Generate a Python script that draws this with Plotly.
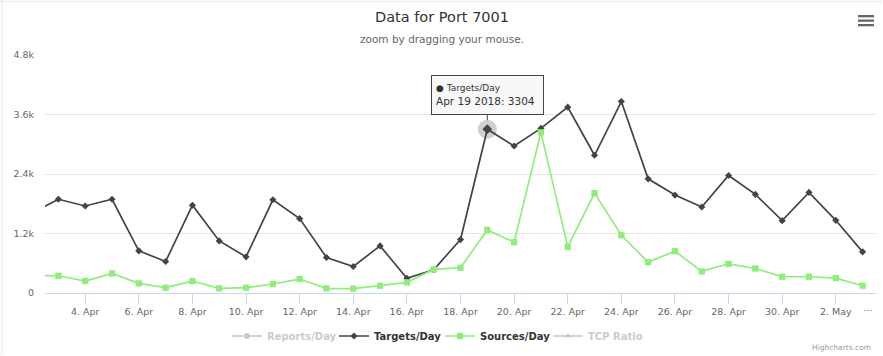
import pandas as pd
import plotly.graph_objects as go

# ---------------- data ----------------
dates = pd.date_range("2018-04-02", "2018-05-03", freq="D")
targets = [1610, 1890, 1755, 1890, 850, 636, 1770, 1050, 730, 1880, 1500, 716,
           535, 950, 295, 470, 1078, 3304, 2965, 3320, 3748, 2778, 3862, 2303,
           1975, 1734, 2370, 1988, 1459, 2028, 1466, 830]
sources = [350, 348, 241, 395, 194, 107, 241, 94, 107, 181, 281, 94,
           87, 147, 214, 475, 509, 1272, 1024, 3240, 930, 2014, 1165, 622,
           843, 435, 589, 495, 328, 328, 301, 147]
# hidden series in the reference (values not visible -> unknown)
reports = [None] * len(dates)
tcp_ratio = [None] * len(dates)
y_tick_vals = [0, 1200, 2400, 3600, 4800]
y_tick_text = ["0", "1.2k", "2.4k", "3.6k", "4.8k"]
hover_index = 17  # Apr 19

# ---------------- geometry helpers ----------------
W, H = 883, 356
L, R, T, B = 45, 7, 55, 62
PW, PH = W - L - R, H - T - B


def px(x):
    return (x - L) / PW


def py(y):
    return (H - B - y) / PH


FONT = "DejaVu Sans"
C_T = "#434348"
C_S = "#90ed7d"
HIDDEN = "#999999"   # rendered at half opacity by the legend -> light grey

fig = go.Figure()

fig.add_trace(go.Scatter(
    x=dates, y=reports, name="Reports/Day", mode="lines+markers", visible="legendonly",
    line=dict(color=HIDDEN, width=1.7), marker=dict(symbol="circle", size=6, color=HIDDEN),
    legend="legend"))
fig.add_trace(go.Scatter(
    x=dates, y=targets, name="Targets/Day", mode="lines+markers",
    line=dict(color=C_T, width=1.7), marker=dict(symbol="diamond", size=5.5, color=C_T),
    legend="legend2"))
fig.add_trace(go.Scatter(
    x=dates, y=sources, name="Sources/Day", mode="lines+markers",
    line=dict(color=C_S, width=1.7), marker=dict(symbol="square", size=6.3, color=C_S),
    legend="legend3"))
fig.add_trace(go.Scatter(
    x=dates, y=tcp_ratio, name="TCP Ratio", mode="lines+markers", visible="legendonly",
    line=dict(color=HIDDEN, width=1.7), marker=dict(symbol="triangle-up", size=6, color=HIDDEN),
    legend="legend4"))

# hover halo + enlarged marker
hx = [dates[hover_index]]
hy = [targets[hover_index]]
fig.add_trace(go.Scatter(x=hx, y=hy, mode="markers", showlegend=False, hoverinfo="skip",
                         marker=dict(symbol="circle", size=19, color="rgba(67,67,72,0.25)")))
fig.add_trace(go.Scatter(x=hx, y=hy, mode="markers", showlegend=False, hoverinfo="skip",
                         marker=dict(symbol="diamond", size=7.5, color=C_T)))

tip_text = ("<span style='font-size:9px'>\u25CF Targets/Day</span><br>"
            f"{dates[hover_index].strftime('%b')} {dates[hover_index].day} "
            f"{dates[hover_index].year}: {targets[hover_index]}")

leg_common = dict(orientation="h", yanchor="middle", xanchor="left",
                  bgcolor="rgba(0,0,0,0)", borderwidth=0, itemclick=False,
                  itemdoubleclick=False)
leg_y = py(336)

annotations = [
    dict(text="Data for Port 7001", x=px(441.5), y=py(17), xref="paper", yref="paper",
         showarrow=False, xanchor="center", yanchor="middle",
         font=dict(family=FONT, size=14.5, color="#333333")),
    dict(text="zoom by dragging your mouse.", x=px(441.5), y=py(39), xref="paper", yref="paper",
         showarrow=False, xanchor="center", yanchor="middle",
         font=dict(family=FONT, size=10.5, color="#666666")),
    dict(text="\u2026", x=px(868), y=py(309), xref="paper", yref="paper",
         showarrow=False, xanchor="center", yanchor="middle",
         font=dict(family=FONT, size=9.5, color="#666666")),
    dict(text="Highcharts.com", x=px(873), y=py(349), xref="paper", yref="paper",
         showarrow=False, xanchor="right", yanchor="middle",
         font=dict(family=FONT, size=7.5, color="#999999")),
    dict(text=tip_text, x=hx[0], y=hy[0], xref="x", yref="y",
         showarrow=True, ax=0, ay=-34, arrowhead=0, arrowwidth=1, arrowcolor=C_T,
         standoff=9, align="left", valign="middle", width=103, height=30,
         borderpad=4, bordercolor=C_T, borderwidth=1, bgcolor="rgba(247,247,247,0.9)",
         font=dict(family=FONT, size=10.5, color="#333333")),
]

shapes = []
# container border (top / left)
shapes.append(dict(type="line", xref="paper", yref="paper", x0=px(0), x1=px(882),
                   y0=py(1), y1=py(1), line=dict(color="#e6e6e6", width=1)))
shapes.append(dict(type="line", xref="paper", yref="paper", x0=px(2), x1=px(2),
                   y0=py(0), y1=py(356), line=dict(color="#e6e6e6", width=1)))
# hamburger icon
for yy in (16, 20.5, 25):
    shapes.append(dict(type="line", xref="paper", yref="paper", x0=px(858), x1=px(874),
                       y0=py(yy), y1=py(yy), line=dict(color="#666666", width=2.3)))

fig.update_layout(
    width=W, height=H,
    margin=dict(l=L, r=R, t=T, b=B, pad=0),
    paper_bgcolor="white", plot_bgcolor="white",
    font=dict(family=FONT, color="#666666"),
    showlegend=True,
    xaxis=dict(
        type="date", range=["2018-04-02 12:00", "2018-05-03 12:00"],
        tick0="2018-04-04", dtick=2 * 86400000, tickformat="%-d. %b",
        showgrid=False, zeroline=False,
        showline=True, linecolor="#ccd6eb", linewidth=1,
        ticks="outside", ticklen=10, tickcolor="#ccd6eb", tickwidth=1,
        tickfont=dict(family=FONT, size=9.5, color="#666666"),
        fixedrange=True, autorange=False,
    ),
    yaxis=dict(
        range=[0, 4800], tickvals=y_tick_vals, ticktext=y_tick_text,
        showgrid=True, gridcolor="#e6e6e6", gridwidth=1, zeroline=False,
        showline=False, ticks="", ticklabelstandoff=10,
        tickfont=dict(family=FONT, size=9.5, color="#666666"),
        fixedrange=True, autorange=False,
    ),
    legend=dict(**leg_common, x=px(227), y=leg_y,
                font=dict(family=FONT, size=10, weight="bold", color=HIDDEN)),
    legend2=dict(**leg_common, x=px(334), y=leg_y,
                 font=dict(family=FONT, size=10, weight="bold", color="#333333")),
    legend3=dict(**leg_common, x=px(440), y=leg_y,
                 font=dict(family=FONT, size=10, weight="bold", color="#333333")),
    legend4=dict(**leg_common, x=px(548), y=leg_y,
                 font=dict(family=FONT, size=10, weight="bold", color=HIDDEN)),
    annotations=annotations,
    shapes=shapes,
    hovermode=False,
)

fig.write_html("out.html", config={"displayModeBar": False},
               post_script="document.body.style.margin='0';document.body.style.overflow='hidden';")
